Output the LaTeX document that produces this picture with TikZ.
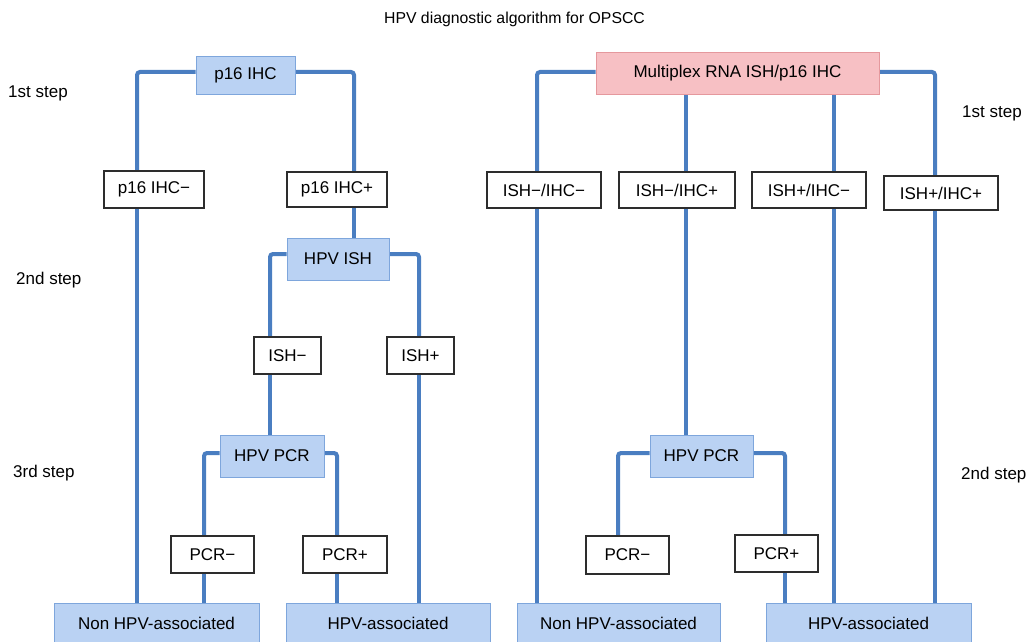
\documentclass[tikz,border=0pt]{standalone}
\usepackage{fontspec}
\setmainfont{Liberation Sans}
\usepackage{tikz}
\usetikzlibrary{positioning,calc,backgrounds}
\definecolor{linkblue}{RGB}{74,126,193}
\definecolor{boxblue}{RGB}{186,210,243}
\definecolor{edgeblue}{RGB}{126,166,220}
\definecolor{boxpink}{RGB}{247,192,196}
\definecolor{edgepink}{RGB}{229,152,157}
\definecolor{edgegray}{RGB}{45,45,45}
\tikzset{
  testbox/.style={draw=edgeblue,fill=boxblue,line width=1pt,inner sep=0pt,align=center,font=\fontsize{17}{20}\selectfont},
  resbox/.style={draw=edgegray,fill=white,line width=1.3pt,inner sep=0pt,align=center,font=\fontsize{17}{20}\selectfont},
  multibox/.style={draw=edgepink,fill=boxpink,line width=1pt,inner sep=0pt,align=center,font=\fontsize{17}{20}\selectfont},
  steplbl/.style={anchor=west,inner sep=0pt,font=\fontsize{17}{20}\selectfont},
  link/.style={draw=linkblue,line width=4pt,rounded corners=3pt}
}

\begin{document}
\begin{tikzpicture}[x=1pt, y=-1pt]
    \useasboundingbox (0,0) rectangle (1028,642);
    \node[inner sep=0pt,font=\fontsize{15.8}{19}\selectfont] (title) at (514.5,19) {HPV diagnostic algorithm for OPSCC};

    \node[steplbl] (s1L) at (8,93) {1st step};
    \node[steplbl] (s2L) at (16,280) {2nd step};
    \node[steplbl] (s3L) at (13,473) {3rd step};
    \node[steplbl] (s1R) at (962,113) {1st step};
    \node[steplbl] (s2R) at (961,475) {2nd step};

    \coordinate (cL1) at (137,0);
    \coordinate (cL2) at (354,0);
    \coordinate (cL3) at (270,0);
    \coordinate (cL4) at (419,0);
    \coordinate (cL5) at (204,0);
    \coordinate (cL6) at (337,0);
    \coordinate (cR1) at (537,0);
    \coordinate (cR2) at (686,0);
    \coordinate (cR3) at (834,0);
    \coordinate (cR4) at (935,0);
    \coordinate (cR5) at (618,0);
    \coordinate (cR6) at (785,0);

    \node[testbox,minimum width=99,minimum height=37] (p16) at (245.5,75.5) {p16 IHC};
    \node[resbox,minimum width=100,minimum height=37] (neg) at (154,189.5) {p16 IHC−};
    \node[resbox,minimum width=100,minimum height=35] (pos) at (337,189.5) {p16 IHC+};
    \node[testbox,minimum width=102,minimum height=42] (ish) at (338,259) {HPV ISH};
    \node[resbox,minimum width=67,minimum height=37] (ishneg) at (287.5,355.5) {ISH−};
    \node[resbox,minimum width=67,minimum height=37] (ishpos) at (420.5,355.5) {ISH+};
    \node[testbox,minimum width=104,minimum height=42] (pcrL) at (272,456) {HPV PCR};
    \node[resbox,minimum width=83,minimum height=37] (pcrnegL) at (212.5,554.5) {PCR−};
    \node[resbox,minimum width=84,minimum height=37] (pcrposL) at (345,554.5) {PCR+};
    \node[testbox,minimum width=205,minimum height=40] (nonL) at (156.5,623) {Non HPV-associated};
    \node[testbox,minimum width=204,minimum height=40] (hpvL) at (388,623) {HPV-associated};

    \node[multibox,minimum width=283,minimum height=41] (multi) at (737.5,73.5) {Multiplex RNA ISH/p16 IHC};
    \node[resbox,minimum width=114,minimum height=36] (isnn) at (544,190) {ISH−/IHC−};
    \node[resbox,minimum width=116,minimum height=36] (isnp) at (677,190) {ISH−/IHC+};
    \node[resbox,minimum width=114,minimum height=36] (ispn) at (809,190) {ISH+/IHC−};
    \node[resbox,minimum width=114,minimum height=34] (ispp) at (941,193) {ISH+/IHC+};
    \node[testbox,minimum width=103,minimum height=42] (pcrR) at (701.5,456) {HPV PCR};
    \node[resbox,minimum width=83,minimum height=38] (pcrnegR) at (627.5,555) {PCR−};
    \node[resbox,minimum width=83,minimum height=37] (pcrposR) at (776.5,553.5) {PCR+};
    \node[testbox,minimum width=203,minimum height=40] (nonR) at (618.5,623) {Non HPV-associated};
    \node[testbox,minimum width=205,minimum height=40] (hpvR) at (868.5,623) {HPV-associated};

    \begin{scope}[on background layer]
    \draw[link] ([yshift=3.5pt]p16.west) -| (cL1 |- neg.north);
    \draw[link] ([yshift=3.5pt]p16.east) -| (cL2 |- pos.north);
    \draw[link] (cL1 |- neg.south) -- (cL1 |- nonL.north);
    \draw[link] (cL2 |- pos.south) -- (cL2 |- ish.north);
    \draw[link] ([yshift=5pt]ish.west) -| (cL3 |- ishneg.north);
    \draw[link] ([yshift=5pt]ish.east) -| (cL4 |- ishpos.north);
    \draw[link] (cL3 |- ishneg.south) -- (cL3 |- pcrL.north);
    \draw[link] (cL4 |- ishpos.south) -- (cL4 |- hpvL.north);
    \draw[link] ([yshift=3pt]pcrL.west) -| (cL5 |- pcrnegL.north);
    \draw[link] ([yshift=3pt]pcrL.east) -| (cL6 |- pcrposL.north);
    \draw[link] (cL5 |- pcrnegL.south) -- (cL5 |- nonL.north);
    \draw[link] (cL6 |- pcrposL.south) -- (cL6 |- hpvL.north);

    \draw[link] ([yshift=1.5pt]multi.west) -| (cR1 |- isnn.north);
    \draw[link] ([yshift=1.5pt]multi.east) -| (cR4 |- ispp.north);
    \draw[link] (cR2 |- multi.south) -- (cR2 |- isnp.north);
    \draw[link] (cR3 |- multi.south) -- (cR3 |- ispn.north);
    \draw[link] (cR1 |- isnn.south) -- (cR1 |- nonR.north);
    \draw[link] (cR2 |- isnp.south) -- (cR2 |- pcrR.north);
    \draw[link] (cR3 |- ispn.south) -- (cR3 |- hpvR.north);
    \draw[link] (cR4 |- ispp.south) -- (cR4 |- hpvR.north);
    \draw[link] ([yshift=3pt]pcrR.west) -| (cR5 |- pcrnegR.north);
    \draw[link] ([yshift=3pt]pcrR.east) -| (cR6 |- pcrposR.north);
    \draw[link] (cR6 |- pcrposR.south) -- (cR6 |- hpvR.north);
    \end{scope}
\end{tikzpicture}
\end{document}
